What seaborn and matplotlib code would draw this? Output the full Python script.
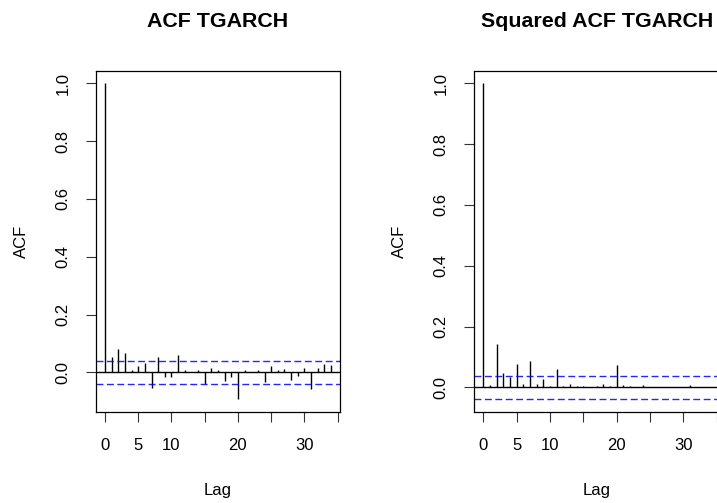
import numpy as np
import matplotlib
matplotlib.use("Agg")
import matplotlib.pyplot as plt
import seaborn as sns

# ACF values, lags 0..34
lags = list(range(35))
acf_resid = [1.0, 0.052, 0.081, 0.066, 0.008, 0.024, 0.031, -0.055, 0.052, -0.015,
             -0.015, 0.061, 0.010, 0.002, 0.009, -0.040, 0.014, 0.008, -0.029, -0.015,
             -0.093, 0.007, 0.002, 0.007, -0.032, 0.022, 0.010, 0.013, -0.026, -0.013,
             0.015, -0.056, 0.016, 0.029, 0.026]
acf_sq = [1.0, 0.008, 0.142, 0.048, 0.036, 0.076, 0.012, 0.087, 0.010, 0.029,
          0.005, 0.060, 0.005, 0.010, 0.005, 0.005, 0.003, 0.004, 0.010, 0.004,
          0.074, 0.009, 0.004, 0.002, 0.009, 0.002, 0.002, 0.002, 0.002, 0.002,
          0.002, 0.009, 0.002, 0.002, 0.002]
conf = 0.039  # white-noise band (1.96/sqrt(n))
titles = ["ACF TGARCH", "Squared ACF TGARCH"]
x_ticks = [0, 5, 10, 15, 20, 25, 30, 35]
x_labels = ["0", "5", "10", "", "20", "", "30", ""]
y_ticks = [0.0, 0.2, 0.4, 0.6, 0.8, 1.0]

sns.set_theme(style="white")
plt.rcParams["font.family"] = ["Liberation Sans", "DejaVu Sans"]
plt.rcParams["text.color"] = "black"
plt.rcParams["axes.labelcolor"] = "black"

fig = plt.figure(figsize=(7.17, 5.03), dpi=100)
boxes = [[96 / 717, 1 - 412 / 503, 244 / 717, 341.5 / 503],
         [474.3 / 717, 1 - 412 / 503, 244.7 / 717, 341.5 / 503]]

for box, vals, title in zip(boxes, [acf_resid, acf_sq], titles):
    ax = fig.add_axes(box)
    ax.vlines(lags, 0, vals, color="black", lw=1)
    ax.axhline(0, color="black", lw=1)
    for c in (conf, -conf):
        ax.axhline(c, color="blue", lw=1, dashes=(5, 2.5), alpha=0.85)

    # R style 4% padding
    lo = min(min(vals), -conf)
    hi = max(max(vals), conf)
    pad = (hi - lo) * 0.04
    ax.set_ylim(lo - pad, hi + pad)
    xpad = (lags[-1] - lags[0]) * 0.04
    ax.set_xlim(lags[0] - xpad, lags[-1] + xpad)

    ax.set_xticks(x_ticks)
    ax.set_xticklabels(x_labels)
    ax.set_yticks(y_ticks)
    ax.set_yticklabels([f"{v:.1f}" for v in y_ticks], rotation=90, va="center")
    ax.tick_params(direction="out", length=7.5, width=0.8, color="#333333",
                   labelsize=12, pad=11, bottom=True, left=True, labelcolor="black")
    for s in ax.spines.values():
        s.set_color("black")
        s.set_linewidth(0.9)

    ax.set_title(title, fontsize=15.4, fontweight="bold", pad=31, color="black")
    ax.set_xlabel("Lag", fontsize=12, labelpad=22)
    ax.set_ylabel("ACF", fontsize=12, labelpad=19)

fig.savefig("out.png", dpi=100)
